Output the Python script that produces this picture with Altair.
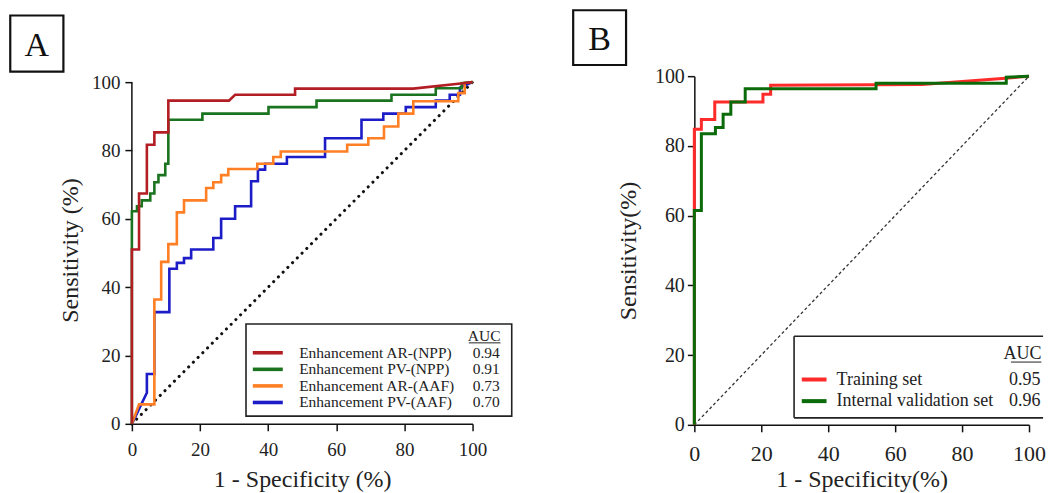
import altair as alt
import pandas as pd

FONT = "Liberation Serif"
TXT = "#222222"

# ---------------- Panel A data (1 - specificity %, sensitivity %) ----------------
a_names = ["Enhancement AR-(NPP)", "Enhancement PV-(NPP)", "Enhancement AR-(AAF)", "Enhancement PV-(AAF)"]
a_auc = ["0.94", "0.91", "0.73", "0.70"]
a_colors = ["#B21E23", "#1A731F", "#FF7F24", "#1D1DC8"]

ar_npp_x = [0, 0, 2.1, 2.1, 4.4, 4.4, 6.6, 6.6, 10.7, 10.7, 28.5, 30.3, 47.9, 47.9, 82.6, 97.2, 100]
ar_npp_y = [0, 51, 51, 67.4, 67.4, 81.7, 81.7, 85.3, 85.3, 94.6, 94.6, 96.3, 96.3, 98.1, 98.1, 99.7, 100]

pv_npp_x = [0, 0, 1.5, 1.5, 2.9, 2.9, 5.4, 5.4, 6.6, 6.6, 7.8, 7.8, 9.8, 9.8, 10.7, 10.7, 20.7, 20.7,
            40.1, 40.1, 54.2, 54.2, 76.2, 76.2, 89.2, 89.2, 96.8, 96.8, 100]
pv_npp_y = [0, 62.2, 62.2, 63.7, 63.7, 65.4, 65.4, 67.4, 67.4, 70.7, 70.7, 72.8, 72.8, 76.1, 76.1, 89, 89, 90.8,
            90.8, 92.7, 92.7, 94.6, 94.6, 96.3, 96.3, 98.2, 98.2, 99.7, 100]

ar_aaf_x = [0, 2.1, 6.6, 6.6, 8.6, 8.6, 10.7, 10.7, 13.2, 13.2, 15.3, 15.3, 21.8, 21.8, 23.9, 23.9, 26.2, 26.2,
            28.3, 28.3, 36.8, 36.8, 41.5, 41.5, 43.7, 43.7, 63.2, 63.2, 69.4, 69.4, 74, 74, 78.2, 78.2,
            82.6, 82.6, 95.8, 95.8, 97.7, 97.7, 100]
ar_aaf_y = [0, 5.7, 5.7, 36.4, 36.4, 47.4, 47.4, 52.6, 52.6, 61.9, 61.9, 65.4, 65.4, 69, 69, 70.7, 70.7, 72.8,
            72.8, 74.6, 74.6, 76.1, 76.1, 78.1, 78.1, 79.7, 79.7, 81.7, 81.7, 83.6, 83.6, 87, 87, 90.8,
            90.8, 94.4, 94.4, 96.8, 96.8, 99.8, 100]

pv_aaf_x = [0, 4.4, 4.4, 6.6, 6.6, 11, 11, 13.2, 13.2, 15.3, 15.3, 17.4, 17.4, 23.9, 23.9, 26.2, 26.2, 30.3,
            30.3, 35, 35, 37, 37, 39.1, 39.1, 45.5, 45.5, 56.7, 56.7, 67.4, 67.4, 73.8, 73.8, 80.4, 80.4,
            89.2, 89.2, 93.3, 93.3, 96.3, 96.3, 100]
pv_aaf_y = [0, 9.1, 14.6, 14.6, 32.7, 32.7, 45.4, 45.4, 47.1, 47.1, 48.5, 48.5, 51, 51, 54.4, 54.4, 60, 60,
            63.7, 63.7, 71, 71, 74.4, 74.4, 76.1, 76.1, 78.1, 78.1, 83.6, 83.6, 89, 89, 90.8, 90.8, 92.7,
            92.7, 94.6, 94.6, 96.3, 96.3, 98.4, 100]

# ---------------- Panel B data ----------------
b_names = ["Training set", "Internal validation set"]
b_auc = ["0.95", "0.96"]
b_colors = ["#FF2B2B", "#0B6B0B"]

train_x = [0, 0, 2.1, 2.1, 6.1, 6.1, 20.5, 20.5, 22.8, 22.8, 68, 93, 100]
train_y = [0, 84.8, 84.8, 87.6, 87.6, 92.6, 92.6, 94.8, 94.8, 97.4, 97.6, 99.4, 100]

valid_x = [0, 0, 2.1, 2.1, 6.3, 6.3, 8.6, 8.6, 10.9, 10.9, 15.2, 15.2, 54.3, 54.3, 93.2, 93.2, 100]
valid_y = [0, 61.5, 61.5, 83.5, 83.5, 85.3, 85.3, 89.1, 89.1, 92.6, 92.6, 96.4, 96.4, 98.0, 98.0, 99.7, 100]

diag_vals = [0, 100]
tick_vals = [0, 20, 40, 60, 80, 100]


def make_axis(title, label_size, label_pad, title_pad, domain=True):
    return alt.Axis(values=tick_vals, title=title, grid=False, tickSize=7, tickWidth=1.5,
                    tickColor="#111111", domain=domain, domainColor="#111111", domainWidth=1.5,
                    labelFont=FONT, labelFontSize=label_size, labelColor=TXT, labelPadding=label_pad,
                    labelFlush=False, titleFont=FONT, titleFontSize=24, titleFontWeight="normal",
                    titleColor=TXT, titlePadding=title_pad)


def build_panel(series, names, colors, auc, ax, ay, width, height, ytop, lw, diag_style, leg, box, letter,
                open_right=False, draw_yline=False):
    sx = alt.Scale(domain=[0, 100], nice=False, zero=False)
    sy = alt.Scale(domain=[0, ytop], nice=False, zero=False)
    X = lambda: alt.X("x:Q", scale=sx, axis=ax)
    Y = lambda: alt.Y("y:Q", scale=sy, axis=ay)
    col = alt.Color("name:N", scale=alt.Scale(domain=names, range=colors), legend=None)
    layers = []

    if draw_yline:
        yl = pd.DataFrame({"x": [0], "y": [0], "y2": [100]})
        layers.append(alt.Chart(yl).mark_rule(color="#111111", strokeWidth=1.5).encode(
            x=X(), y=Y(), y2="y2:Q"))

    diag = pd.DataFrame({"x": diag_vals, "y": diag_vals})
    layers.append(alt.Chart(diag).mark_line(**diag_style).encode(x=X(), y=Y()))

    for name, xs, ys in series:
        df = pd.DataFrame({"x": xs, "y": ys, "name": name, "i": list(range(len(xs)))})
        layers.append(alt.Chart(df).mark_line(strokeWidth=lw, strokeJoin="miter").encode(
            x=X(), y=Y(), color=col, order=alt.Order("i:Q")))

    # legend frame
    x0, x1, y0, y1 = leg["frame"]
    frame = pd.DataFrame({"x": [x0], "x2": [x1], "y": [y0], "y2": [y1]})
    if open_right:
        layers.append(alt.Chart(frame).mark_rect(fill="white").encode(
            x=X(), x2="x2:Q", y=Y(), y2="y2:Q"))
        segs = pd.DataFrame({"x": [x0, x0, x0], "x2": [x1, x1, x0], "y": [y0, y1, y0], "y2": [y0, y1, y1]})
        layers.append(alt.Chart(segs).mark_rule(color="#222222", strokeWidth=1.6).encode(
            x=X(), x2="x2:Q", y=Y(), y2="y2:Q"))
    else:
        layers.append(alt.Chart(frame).mark_rect(fill="white", stroke="#222222", strokeWidth=1.6).encode(
            x=X(), x2="x2:Q", y=Y(), y2="y2:Q"))

    rows_y = [leg["row0"] - k * leg["step"] for k in range(len(names))]
    samp = pd.DataFrame({"x": [leg["sx0"]] * len(names), "x2": [leg["sx1"]] * len(names),
                         "y": rows_y, "name": names})
    layers.append(alt.Chart(samp).mark_rule(strokeWidth=lw + 1).encode(x=X(), x2="x2:Q", y=Y(), color=col))
    lab = pd.DataFrame({"x": [leg["tx"]] * len(names), "y": rows_y, "t": names})
    layers.append(alt.Chart(lab).mark_text(align="left", baseline="middle", font=FONT,
                                           fontSize=leg["fs"], color=TXT).encode(x=X(), y=Y(), text="t:N"))
    val = pd.DataFrame({"x": [leg["vx"]] * len(names), "y": rows_y, "t": auc})
    layers.append(alt.Chart(val).mark_text(align="right", baseline="middle", font=FONT,
                                           fontSize=leg["fs"], color=TXT).encode(x=X(), y=Y(), text="t:N"))
    head = pd.DataFrame({"x": [leg["vx"] + leg["hdx"]], "y": [leg["hy"]], "t": ["AUC"]})
    layers.append(alt.Chart(head).mark_text(align="right", baseline="middle", font=FONT,
                                            fontSize=leg["fs"], color=TXT).encode(x=X(), y=Y(), text="t:N"))
    ul = pd.DataFrame({"x": [leg["ux0"]], "x2": [leg["vx"] + leg["hdx"]], "y": [leg["uy"]]})
    layers.append(alt.Chart(ul).mark_rule(color=TXT, strokeWidth=1).encode(x=X(), x2="x2:Q", y=Y()))

    # panel letter box
    bx0, bx1, by0, by1 = box
    bdf = pd.DataFrame({"x": [bx0], "x2": [bx1], "y": [by0], "y2": [by1]})
    layers.append(alt.Chart(bdf).mark_rect(fillOpacity=0, stroke="#111111", strokeWidth=2.2).encode(
        x=X(), x2="x2:Q", y=Y(), y2="y2:Q"))
    ldf = pd.DataFrame({"x": [(bx0 + bx1) / 2], "y": [(by0 + by1) / 2], "t": [letter]})
    layers.append(alt.Chart(ldf).mark_text(align="center", baseline="middle", font=FONT, fontSize=34,
                                           color="#111111", dy=2).encode(x=X(), y=Y(), text="t:N"))

    return alt.layer(*layers).properties(width=width, height=height)


panel_a = build_panel(
    series=[(a_names[3], pv_aaf_x, pv_aaf_y), (a_names[2], ar_aaf_x, ar_aaf_y),
            (a_names[1], pv_npp_x, pv_npp_y), (a_names[0], ar_npp_x, ar_npp_y)],
    names=a_names, colors=a_colors, auc=a_auc,
    ax=make_axis("1 - Specificity (%)", 19, 10, 8),
    ay=make_axis("Sensitivity (%)", 19, 5, 9, domain=False),
    width=341, height=348, ytop=101.75, lw=2.6,
    diag_style=dict(color="#111111", strokeWidth=3, strokeDash=[0.1, 6.6], strokeCap="round"),
    leg=dict(frame=(33.5, 111.5, 2.25, 29.2), row0=20.8, step=4.85, sx0=35.5, sx1=44.3, tx=49.1,
             vx=108.0, hdx=0.2, hy=25.6, ux0=98.9, uy=23.7, fs=15.5),
    box=(-35.7, -20.1, 103.1, 119.5), letter="A", draw_yline=True)

panel_b = build_panel(
    series=[(b_names[0], train_x, train_y), (b_names[1], valid_x, valid_y)],
    names=b_names, colors=b_colors, auc=b_auc,
    ax=make_axis("1 - Specificity(%)", 22, 12, 3),
    ay=make_axis("Sensitivity(%)", 20, 3, 14),
    width=335, height=349, ytop=100, lw=3,
    diag_style=dict(color="#333333", strokeWidth=1.3, strokeDash=[3, 2.5]),
    leg=dict(frame=(29.8, 104.2, 2.0, 25.4), row0=13.0, step=6.2, sx0=32.1, sx1=39.5, tx=42.5,
             vx=103.4, hdx=0.3, hy=20.2, ux0=94.6, uy=18.0, fs=18),
    box=(-36.2, -20.4, 103.2, 118.9), letter="B", open_right=True)

chart = alt.hconcat(panel_a, panel_b, spacing=58).resolve_scale(color="independent").properties(
    padding={"left": 1, "top": 0, "right": 0, "bottom": 0}, background="white"
).configure_view(stroke=None)

chart.save("out.html", embed_options={"renderer": "svg", "actions": False})
